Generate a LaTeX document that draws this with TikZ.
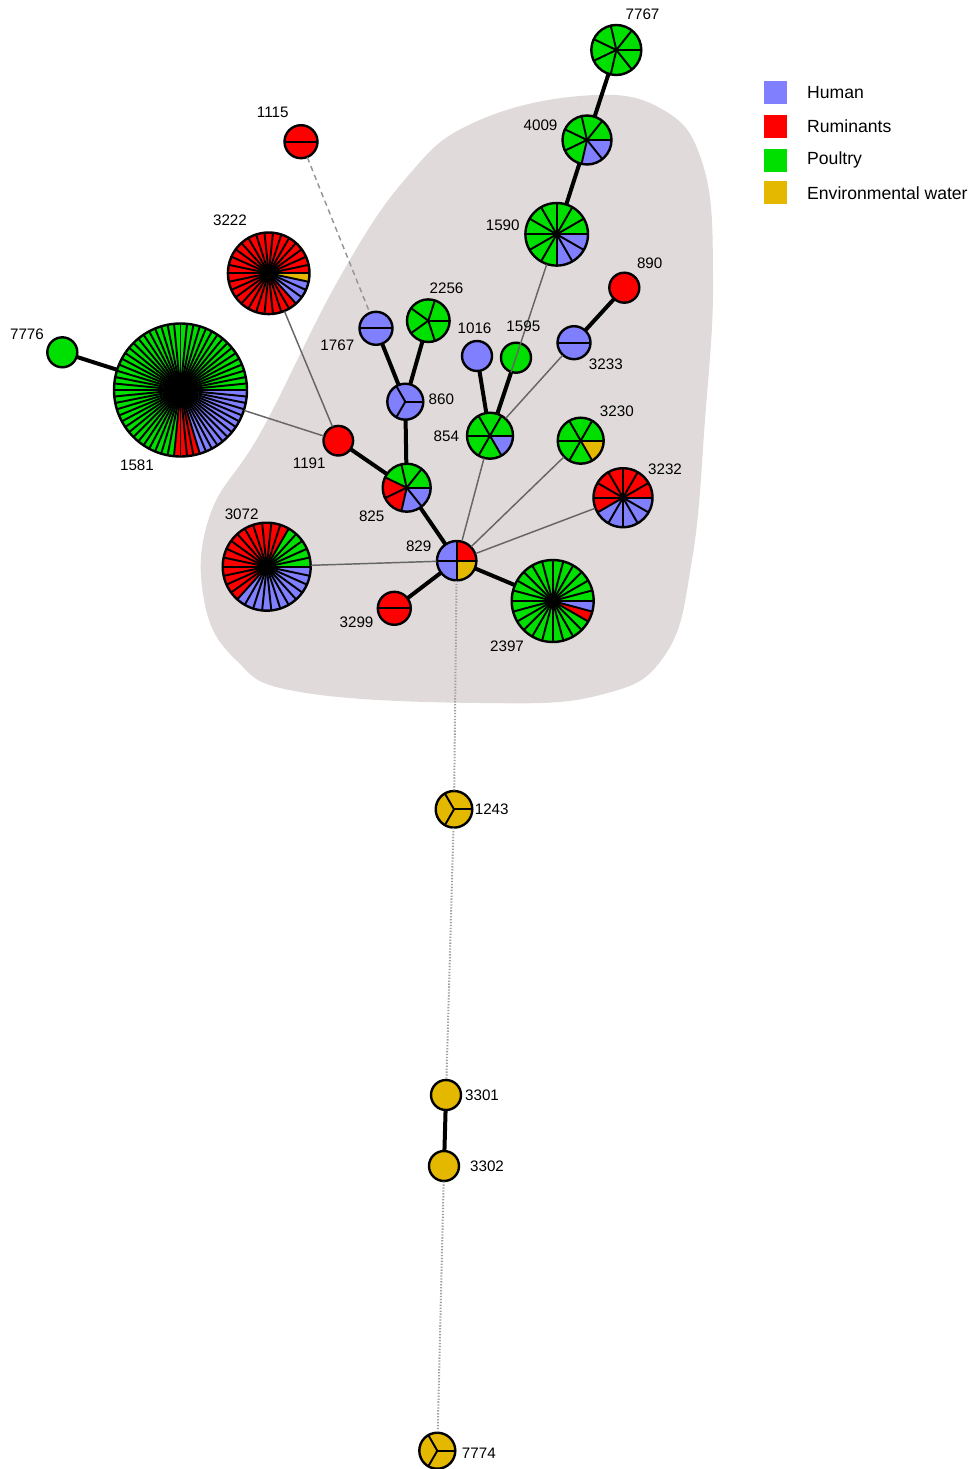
\documentclass[tikz,border=0pt]{standalone}
\usepackage{fontspec}
\setmainfont{Liberation Sans}

\definecolor{human}{RGB}{128,128,255}
\definecolor{ruminants}{RGB}{255,0,0}
\definecolor{poultry}{RGB}{0,224,0}
\definecolor{water}{RGB}{229,184,0}
\definecolor{cluster}{RGB}{224,218,219}

\tikzset{every picture/.style={line width=0.75pt}}
\tikzset{
  slice/.style={line width=1.45pt, line cap=round},
  rim/.style={line width=1.8pt},
  strong/.style={line width=3pt},
  weak/.style={line width=1.1pt, color={rgb, 255:red, 102; green, 102; blue, 102 }},
  faint/.style={line width=1.1pt, color={rgb, 255:red, 150; green, 150; blue, 150 }, dash pattern=on 4pt off 3pt},
  dots/.style={line width=1.5pt, color={rgb, 255:red, 160; green, 160; blue, 160 }, dash pattern=on 1pt off 1.2pt},
  lab/.style={inner sep=0.75pt, font=\fontsize{11.4}{13}\selectfont},
  legtext/.style={anchor=west, inner sep=0pt, font=\fontsize{13.2}{15}\selectfont},
  legbox/.style={minimum size=17.25pt, inner sep=0pt},
}

% pie node: name, position, radius, poultry, ruminants, human, water
\newcommand{\pienode}[7]{%
  \node [circle, inner sep=0pt, minimum size={2*#3*0.75pt}] (#1) at (#2) {};
  \pgfmathtruncatemacro{\pieN}{#4+#5+#6+#7}
  \pgfmathtruncatemacro{\pieA}{#4}
  \pgfmathtruncatemacro{\pieB}{#4+#5}
  \pgfmathtruncatemacro{\pieC}{#4+#5+#6}
  \pgfmathsetmacro{\pieS}{360/\pieN}
  \foreach \k in {1,...,\pieN}{
    \pgfmathsetmacro{\angA}{-(\k-1)*\pieS}
    \pgfmathsetmacro{\angB}{-\k*\pieS}
    \ifnum\k>\pieC \def\pc{water}\else\ifnum\k>\pieB \def\pc{human}\else\ifnum\k>\pieA \def\pc{ruminants}\else\def\pc{poultry}\fi\fi\fi
    \fill [fill=\pc] (#1.center) -- ++(\angA:{#3*0.75pt}) arc [start angle=\angA, end angle=\angB, radius={#3*0.75pt}] -- cycle;
  }
  \ifnum\pieN>1
    \foreach \k in {1,...,\pieN}{
      \draw [slice] (#1.center) -- ++({-(\k-1)*\pieS}:{#3*0.75pt});
    }
  \fi
  \draw [rim] (#1.center) circle [radius={#3*0.75pt}];
}

\begin{document}
\begin{tikzpicture}[x=0.75pt,y=0.75pt,yscale=-1,xscale=1]
\useasboundingbox (0,0) rectangle (973,1469);

%Shape: Cluster
\fill [cluster] plot [smooth cycle, tension=0.7] coordinates {(340,277) (407,177) (473,123) (580,96) (660,108) (703,165) (713,280) (705,420) (692,560) (665,655) (600,695) (480,703) (300,692) (236,660) (204,600) (210,515) (262,430)};

%Pie Nodes
\pienode{n7767}{616.3,50}{25}{7}{0}{0}{0}
\pienode{n4009}{587,140}{24.5}{5}{0}{2}{0}
\pienode{n1590}{556.7,234.3}{31.3}{9}{0}{3}{0}
\pienode{n890}{624.3,287.7}{15}{0}{1}{0}{0}
\pienode{n1115}{301,141.7}{16.5}{0}{2}{0}{0}
\pienode{n3222}{268.7,273.3}{40.8}{0}{26}{3}{1}
\pienode{n7776}{62.3,352.3}{15}{1}{0}{0}{0}
\pienode{n1581}{180.5,390}{66.5}{47}{4}{13}{0}
\pienode{n1767}{376,328.3}{16.5}{0}{0}{2}{0}
\pienode{n2256}{428.3,320.7}{21.3}{5}{0}{0}{0}
\pienode{n860}{405.3,401.7}{18}{0}{0}{3}{0}
\pienode{n1016}{477,356}{15}{0}{0}{1}{0}
\pienode{n1595}{516,357.7}{15}{1}{0}{0}{0}
\pienode{n3233}{574,342.7}{16.5}{0}{0}{2}{0}
\pienode{n854}{490,435.7}{23}{5}{0}{1}{0}
\pienode{n3230}{580.7,440.7}{23}{5}{0}{0}{1}
\pienode{n1191}{338.3,440.7}{14.8}{0}{1}{0}{0}
\pienode{n825}{406.7,487.7}{24}{3}{2}{2}{0}
\pienode{n3232}{623,497.7}{29.5}{0}{7}{5}{0}
\pienode{n3072}{266.7,566.7}{44}{5}{14}{11}{0}
\pienode{n829}{456.7,560.7}{19.7}{0}{1}{2}{1}
\pienode{n3299}{394.3,608.3}{16.5}{0}{2}{0}{0}
\pienode{n2397}{552.7,601}{41}{22}{1}{1}{0}
\pienode{n1243}{454,809.3}{18.3}{0}{0}{0}{3}
\pienode{n3301}{446,1095}{15}{0}{0}{0}{1}
\pienode{n3302}{444,1166}{15}{0}{0}{0}{1}
\pienode{n7774}{437.3,1450.7}{18}{0}{0}{0}{3}

%Straight Lines
\draw [strong] (n7767) -- (n4009) ;
\draw [strong] (n4009) -- (n1590) ;
\draw [weak] (n1590) -- (n854) ;
\draw [strong] (n890) -- (n3233) ;
\draw [weak] (n3233) -- (n854) ;
\draw [strong] (n1016) -- (n854) ;
\draw [strong] (n1595) -- (n854) ;
\draw [weak] (n854) -- (n829) ;
\draw [weak] (n3230) -- (n829) ;
\draw [weak] (n3232) -- (n829) ;
\draw [faint] (n1115) -- (n1767) ;
\draw [strong] (n1767) -- (n860) ;
\draw [strong] (n2256) -- (n860) ;
\draw [strong] (n860) -- (n825) ;
\draw [strong] (n1191) -- (n825) ;
\draw [strong] (n825) -- (n829) ;
\draw [weak] (n3222) -- (n1191) ;
\draw [weak] (n1581) -- (n1191) ;
\draw [strong] (n7776) -- (n1581) ;
\draw [weak] (n3072) -- (n829) ;
\draw [strong] (n3299) -- (n829) ;
\draw [strong] (n2397) -- (n829) ;
\draw [dots] (n829) -- (n1243) ;
\draw [dots] (n1243) -- (n3301) ;
\draw [strong] (n3301) -- (n3302) ;
\draw [dots] (n3302) -- (n7774) ;

% Text Node
\node [lab] (t7767) at (642.5,14) {7767};
\node [lab] (t4009) at (540.5,125.3) {4009};
\node [lab] (t1590) at (502.7,225.7) {1590};
\node [lab] (t890) at (649.7,263.7) {890};
\node [lab] (t1115) at (272.7,112.3) {1115};
\node [lab] (t3222) at (230,220.7) {3222};
\node [lab] (t7776) at (27,334) {7776};
\node [lab] (t1581) at (137,465.7) {1581};
\node [lab] (t1767) at (337.3,345.7) {1767};
\node [lab] (t2256) at (446.5,288.2) {2256};
\node [lab] (t860) at (441.3,399.3) {860};
\node [lab] (t1016) at (474.5,328.5) {1016};
\node [lab] (t1595) at (523.3,326.3) {1595};
\node [lab] (t3233) at (605.8,364.2) {3233};
\node [lab] (t854) at (446.3,436.5) {854};
\node [lab] (t3230) at (616.8,410.8) {3230};
\node [lab] (t3232) at (665,469) {3232};
\node [lab] (t1191) at (309.3,463.3) {1191};
\node [lab] (t825) at (371.7,516.7) {825};
\node [lab] (t3072) at (241.7,514.2) {3072};
\node [lab] (t829) at (418.7,545.8) {829};
\node [lab] (t3299) at (356.5,622.2) {3299};
\node [lab] (t2397) at (507,646) {2397};
\node [lab] (t1243) at (491.7,809.5) {1243};
\node [lab] (t3301) at (482,1095) {3301};
\node [lab] (t3302) at (487,1166) {3302};
\node [lab] (t7774) at (478.8,1453) {7774};

% Legend
\node [legbox, fill=human] (kHuman) at (775.5,93) {};
\node [legbox, fill=ruminants] (kRuminants) at (775.5,126.3) {};
\node [legbox, fill=poultry] (kPoultry) at (775.5,160.3) {};
\node [legbox, fill=water] (kWater) at (775.5,193) {};
\node [legtext] (lHuman) at (806.7,93) {Human};
\node [legtext] (lRuminants) at (806.7,126.3) {Ruminants};
\node [legtext] (lPoultry) at (806.7,160.3) {Poultry};
\node [legtext] (lWater) at (806.7,193) {Environmental water};

\end{tikzpicture}
\end{document}
